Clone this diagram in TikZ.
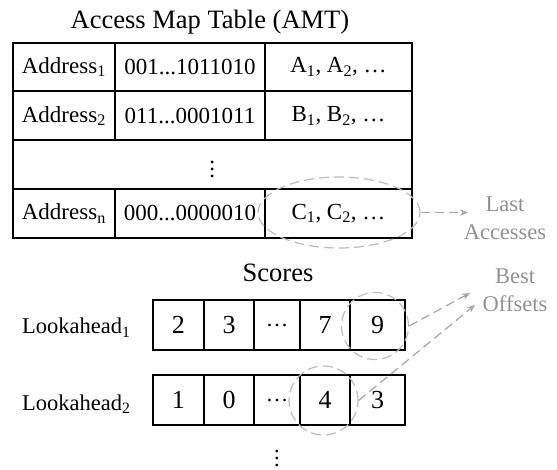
\documentclass[tikz,border=0pt]{standalone}
\usepackage{fontspec}
\setmainfont{Liberation Serif}
\usetikzlibrary{arrows.meta,shapes.geometric}
\definecolor{ringgray}{RGB}{188,188,188}
\definecolor{arrgray}{RGB}{165,165,165}
\definecolor{lblgray}{RGB}{145,145,145}
\newcommand\mydvdots{\vbox{\baselineskip=7pt\lineskiplimit=-20pt\lineskip=0pt\hbox{.}\hbox{.}\hbox{.}}}
\newcommand\mydcdots{{\fontsize{22.5}{27}\selectfont …}}
\begin{document}
\begin{tikzpicture}[x=1pt,y=-1pt,
  cell/.style={draw,line width=2pt,inner sep=0pt,minimum height=48.8pt,
    font=\fontsize{23}{27}\selectfont},
  scorebox/.style={draw,line width=2pt,inner sep=0pt,minimum height=50pt,
    font=\fontsize{26}{30}\selectfont},
  txt/.style={inner sep=0pt,font=\fontsize{22.5}{27}\selectfont},
  bigtxt/.style={inner sep=0pt,font=\fontsize{26.5}{30}\selectfont},
  side/.style={inner sep=0pt,text=lblgray,align=center,font=\fontsize{22.5}{28}\selectfont},
  ring/.style={draw=ringgray,line width=1.2pt,dash pattern=on 10pt off 5pt,inner sep=0pt},
  pointer/.style={draw=arrgray,line width=1.2pt,dash pattern=on 9pt off 5pt,
    -{Stealth[length=8pt,width=6.5pt]}}
]
\useasboundingbox (0,0) rectangle (557,470);

% title
\node[bigtxt,anchor=base] (title) at (210,29) {Access Map Table (AMT)};

% table
\node[cell,minimum width=102.3pt] (a1) at (63.85,67.1) {Address\textsubscript{1}};
\node[cell,minimum width=150pt]   (b1) at (190,67.1)   {001...1011010};
\node[cell,minimum width=147pt]   (c1) at (338.5,67.1) {A\textsubscript{1}, A\textsubscript{2}, …};

\node[cell,minimum width=102.3pt] (a2) at (63.85,115.9) {Address\textsubscript{2}};
\node[cell,minimum width=150pt]   (b2) at (190,115.9)   {011...0001011};
\node[cell,minimum width=147pt]   (c2) at (338.5,115.9) {B\textsubscript{1}, B\textsubscript{2}, …};

\node[cell,minimum width=399.3pt] (mid) at (212.35,164.7) {\hbox{\mydvdots\vrule width 0pt height 26pt depth 0pt}};

\node[cell,minimum width=102.3pt] (a4) at (63.85,213.5) {Address\textsubscript{n}};
\node[cell,minimum width=150pt]   (b4) at (190,213.5)   {000...0000010};
\node[cell,minimum width=147pt]   (c4) at (338.5,213.5) {C\textsubscript{1}, C\textsubscript{2}, …};

\node[ring,ellipse,minimum width=162pt,minimum height=71pt] (cring) at (339,212.5) {};

\node[side,anchor=base] (last) at (505,240) {Last\\Accesses};
\coordinate (lastend) at (468,212.5);
\draw[pointer] (cring.east) -- (lastend);

% scores
\node[bigtxt,anchor=base] (scores) at (278,282) {Scores};

\node[txt,anchor=base west] (la1) at (22,334) {Lookahead\textsubscript{1}};
\node[scorebox,minimum width=51.3pt] (s11) at (178.35,325) {2};
\node[scorebox,minimum width=50pt]   (s12) at (229,325)    {3};
\node[scorebox,minimum width=46pt]   (s13) at (277,325)    {\mydcdots};
\node[scorebox,minimum width=50pt]   (s14) at (325,325)    {7};
\node[scorebox,minimum width=55pt]   (s15) at (377.5,325)  {9};

\node[txt,anchor=base west] (la2) at (22,410) {Lookahead\textsubscript{2}};
\node[scorebox,minimum width=51.3pt] (s21) at (178.35,400) {1};
\node[scorebox,minimum width=50pt]   (s22) at (229,400)    {0};
\node[scorebox,minimum width=46pt]   (s23) at (277,400)    {\mydcdots};
\node[scorebox,minimum width=50pt]   (s24) at (325,400)    {4};
\node[scorebox,minimum width=55pt]   (s25) at (377.5,400)  {3};

\node[txt] (vdots) at (277,458) {\mydvdots};

\node[ring,circle,minimum size=67pt] (ring9) at (375,326) {};
\node[ring,circle,minimum size=69pt] (ring4) at (323.5,400.5) {};

\node[side,anchor=base] (best) at (515,312) {Best\\Offsets};
\coordinate (bestend1) at (470,293);
\coordinate (bestend2) at (475,305);
\draw[pointer] (ring9.east) -- (bestend1);
\draw[pointer] (ring4.east) -- (bestend2);
\end{tikzpicture}
\end{document}
